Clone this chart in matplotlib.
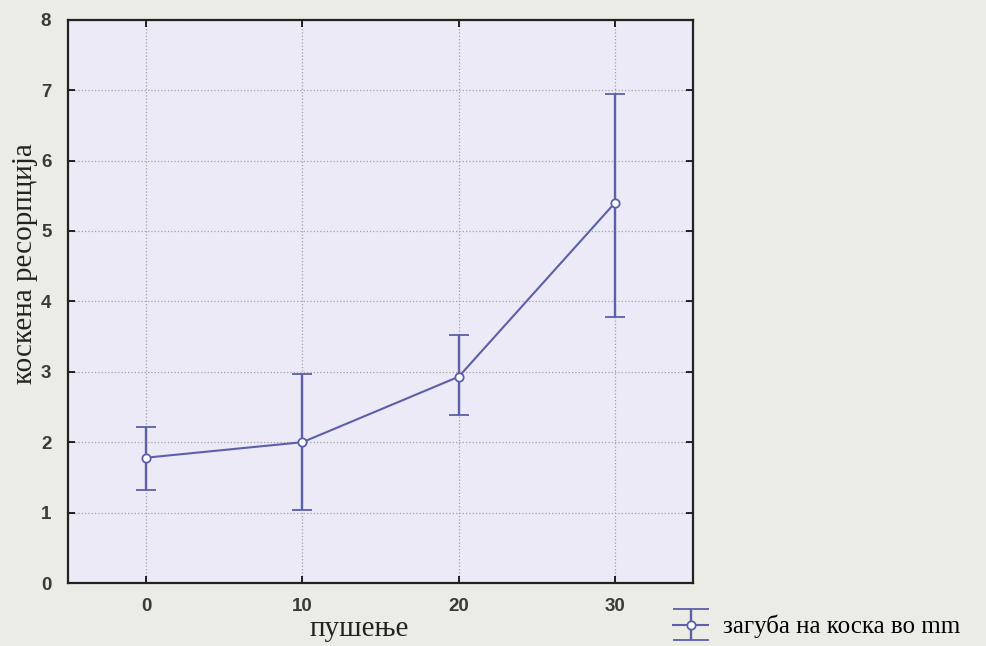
import matplotlib
matplotlib.use("Agg")
import matplotlib.pyplot as plt
from matplotlib.lines import Line2D
from matplotlib.legend_handler import HandlerErrorbar

# data
smoking = [0, 10, 20, 30]
resorption = [1.78, 2.0, 2.93, 5.4]
err_low = [1.32, 1.03, 2.38, 3.78]
err_high = [2.22, 2.97, 3.52, 6.95]
yticks = [0, 1, 2, 3, 4, 5, 6, 7, 8]
xticks = [0, 10, 20, 30]

line_col = "#5b60a8"
yerr = [[m - lo for m, lo in zip(resorption, err_low)],
        [hi - m for m, hi in zip(resorption, err_high)]]


class WideCaps(HandlerErrorbar):
    # legend symbol with caps as wide as the handle, like the original
    def create_artists(self, *args, **kw):
        arts = super().create_artists(*args, **kw)
        for a in arts:
            if isinstance(a, Line2D) and a.get_marker() == "_":
                a.set_markersize(26)
        return arts


fig = plt.figure(figsize=(9.86, 6.46), dpi=100, facecolor="#ecece6")
ax = fig.add_axes([0.069, 0.0975, 0.634, 0.872])
ax.set_facecolor("#eceaf7")

eb = ax.errorbar(smoking, resorption, yerr=yerr, color=line_col, lw=1.5,
                 capsize=7, capthick=1.7, elinewidth=1.7,
                 marker="o", ms=6, mfc="white", mec=line_col, mew=1.3,
                 label="загуба на коска во mm")

ax.set_xlim(-5, 35)
ax.set_ylim(0, 8)
ax.set_xticks(xticks)
ax.set_yticks(yticks)
ax.grid(True, ls=":", color="#a0a0a8", lw=0.9)
ax.tick_params(direction="in", length=5, width=1.2, top=True, right=True,
               labelsize=13.5, labelcolor="#3a3a3a", pad=12)
ax.tick_params(axis="x", pad=11)
for lab in ax.get_xticklabels() + ax.get_yticklabels():
    lab.set_fontweight("bold")
    lab.set_family("Liberation Sans")
for sp in ax.spines.values():
    sp.set_linewidth(1.6)
    sp.set_color("#222222")

fig.text(359 / 986, 1 - 636 / 646, "пушење", family="Liberation Serif",
         fontsize=21, ha="center", va="baseline", color="#222222")
fig.text(25 / 986, 1 - 264 / 646, "коскена ресорпција", family="Liberation Serif",
         fontsize=21, rotation=90, ha="center", va="center", color="#222222")

fig.legend(handles=[eb], loc="center left", bbox_to_anchor=(0.683, 0.03),
           frameon=False, prop={"family": "Liberation Serif", "size": 18},
           handlelength=1.4, handletextpad=0.6, borderpad=0, borderaxespad=0,
           handler_map={type(eb): WideCaps(yerr_size=0.62)})

fig.savefig("out.png", dpi=100, facecolor=fig.get_facecolor())
